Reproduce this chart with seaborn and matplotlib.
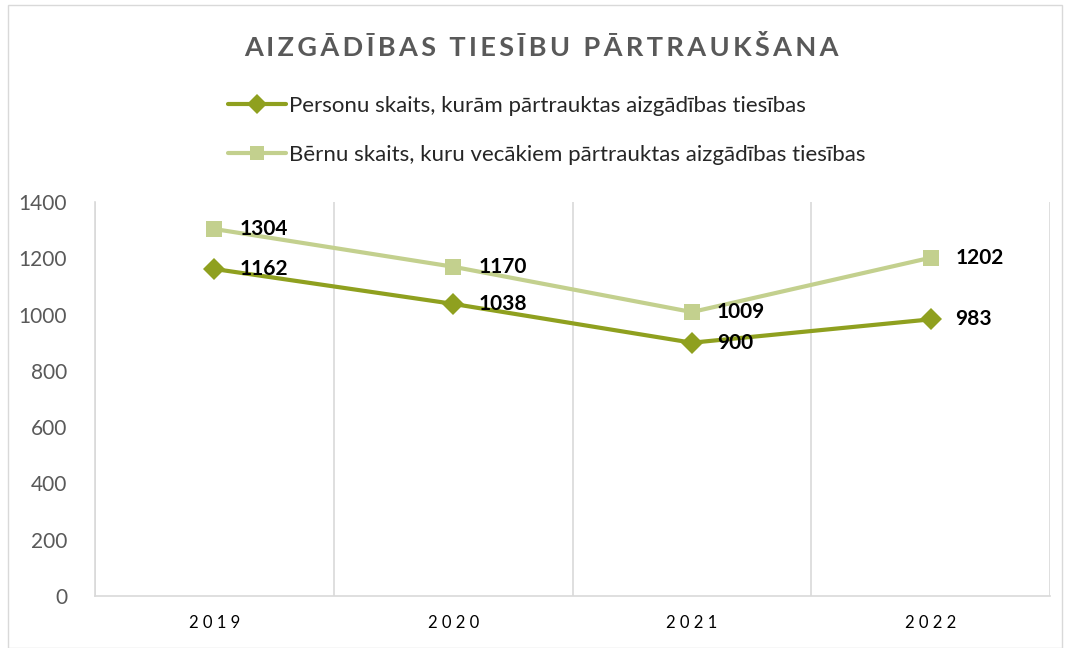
import matplotlib
matplotlib.use('Agg')
import matplotlib.pyplot as plt
import seaborn as sns
import pandas as pd
from matplotlib.patches import Rectangle
from matplotlib.lines import Line2D

# Dati
years = ['2019', '2020', '2021', '2022']
personas = [1162, 1038, 900, 983]
berni = [1304, 1170, 1009, 1202]
label_personas = 'Personu skaits, kurām pārtrauktas aizgādības tiesības'
label_berni = 'Bērnu skaits, kuru vecākiem pārtrauktas aizgādības tiesības'

dark = '#8FA01F'
light = '#C3D08E'
gray = '#595959'

sns.set_style('white')
plt.rcParams['font.family'] = ['Lato', 'DejaVu Sans']

df = pd.DataFrame({
    'x': list(range(len(years))) * 2,
    'value': personas + berni,
    'series': [label_personas] * 4 + [label_berni] * 4,
})

fig = plt.figure(figsize=(10.68, 6.48), dpi=100)
ax = fig.add_axes([95 / 1068, 1 - 596 / 648, (1050 - 95) / 1068, (596 - 202) / 648])

sns.lineplot(data=df, x='x', y='value', hue='series', style='series',
             palette={label_personas: dark, label_berni: light},
             markers={label_personas: 'D', label_berni: 's'},
             dashes=False, linewidth=3, markersize=11, markeredgewidth=0,
             ax=ax, legend=False)

# datu etiķetes
for vals in (personas, berni):
    for i, v in enumerate(vals):
        ax.annotate(str(v), (i, v), xytext=(18, 0), textcoords='offset points',
                    ha='left', va='center', fontsize=15, fontweight='bold', color='black')

ax.set_xlim(-0.5, len(years) - 0.5)
ax.set_ylim(0, 1400)
ax.set_yticks(range(0, 1401, 200))
ax.set_xticks(range(len(years)))
ax.set_xticklabels([' '.join(y) for y in years])
ax.set_xticks([i - 0.5 for i in range(len(years) + 1)], minor=True)
ax.grid(False)
ax.grid(True, which='minor', axis='x', color='#D9D9D9', linewidth=1.2)
ax.set_xlabel('')
ax.set_ylabel('')
ax.tick_params(axis='y', labelsize=15, labelcolor=gray, length=0, pad=20)
ax.tick_params(axis='x', labelsize=12, labelcolor='black', length=0, pad=14)
ax.tick_params(which='minor', length=0)
for s in ['top', 'right']:
    ax.spines[s].set_visible(False)
for s in ['left', 'bottom']:
    ax.spines[s].set_color('#D9D9D9')
    ax.spines[s].set_linewidth(1.2)

# virsraksts
title = 'AIZGĀDĪBAS TIESĪBU PĀRTRAUKŠANA'
spaced = '\u2009 \u2009'.join('\u2009'.join(w) for w in title.split(' '))
fig.text(541 / 1068, 1 - 48 / 648, spaced,
         ha='center', va='center', fontsize=19.5, fontweight='bold', color=gray)

# leģenda
handles = [Line2D([], [], color=dark, linewidth=3, marker='D', markersize=10, markeredgewidth=0),
           Line2D([], [], color=light, linewidth=3, marker='s', markersize=10, markeredgewidth=0)]
fig.legend(handles, [label_personas, label_berni], loc='upper left',
           bbox_to_anchor=(228 / 1068, 1 - 96 / 648), frameon=False,
           fontsize=16, handlelength=2.6, handletextpad=0.15, labelspacing=1.3,
           borderpad=0, borderaxespad=0)

fig.patches.append(Rectangle((8 / 1068, 0), 1054 / 1068, 1 - 5 / 648, transform=fig.transFigure,
                             fill=False, edgecolor='#D9D9D9', linewidth=1))

fig.savefig('out.png', dpi=100)
